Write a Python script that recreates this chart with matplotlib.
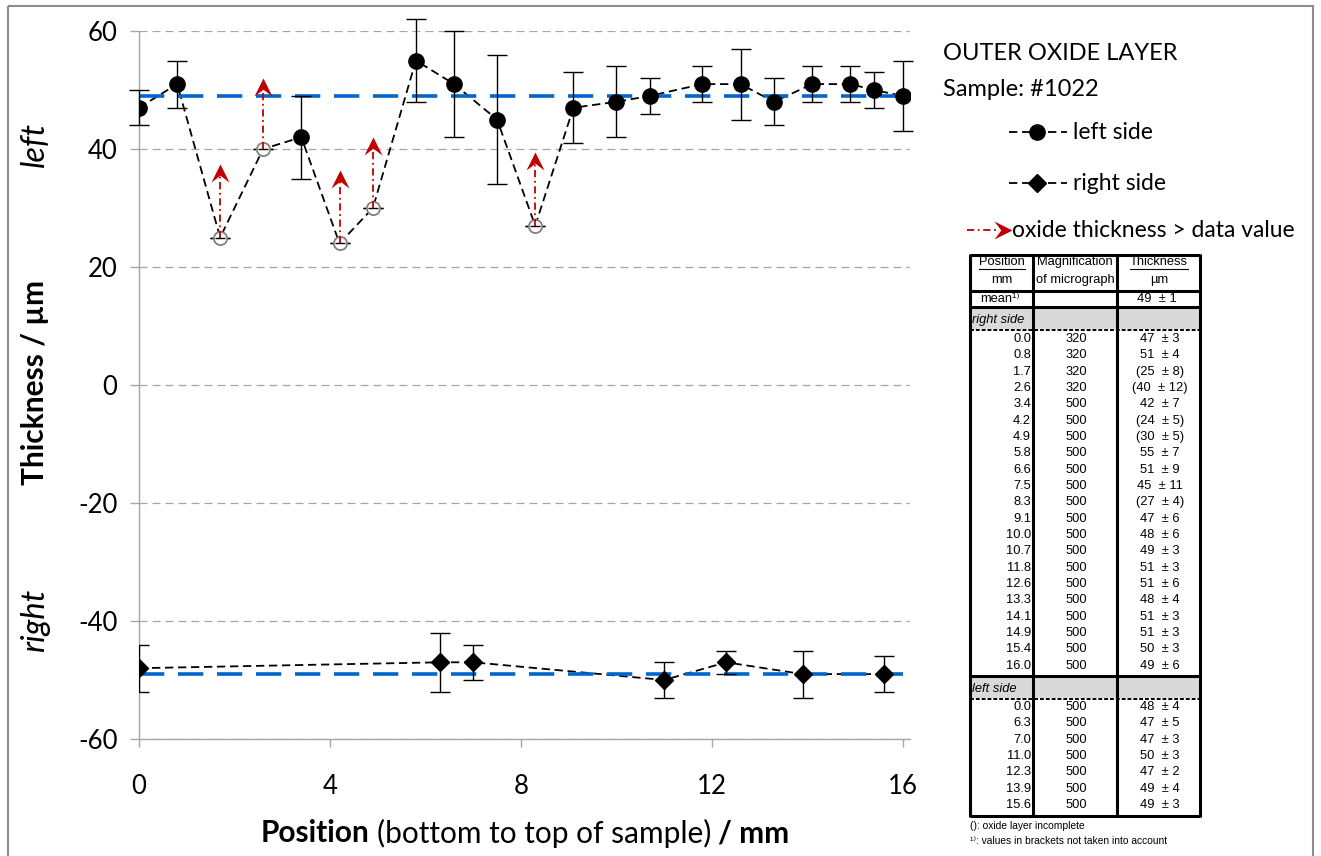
import matplotlib
matplotlib.use("Agg")
import matplotlib.pyplot as plt
from matplotlib.path import Path
from matplotlib.patches import Rectangle

plt.rcParams["axes.unicode_minus"] = False

# ---- data -------------------------------------------------------------
# upper profile (plotted as positive thickness)
upper_pos = [0.0, 0.8, 1.7, 2.6, 3.4, 4.2, 4.9, 5.8, 6.6, 7.5, 8.3,
             9.1, 10.0, 10.7, 11.8, 12.6, 13.3, 14.1, 14.9, 15.4, 16.0]
upper_mag = [320, 320, 320, 320, 500, 500, 500, 500, 500, 500, 500,
             500, 500, 500, 500, 500, 500, 500, 500, 500, 500]
upper_val = [47, 51, 25, 40, 42, 24, 30, 55, 51, 45, 27,
             47, 48, 49, 51, 51, 48, 51, 51, 50, 49]
upper_err = [3, 4, 8, 12, 7, 5, 5, 7, 9, 11, 4,
             6, 6, 3, 3, 6, 4, 3, 3, 3, 6]
upper_incomplete = [False, False, True, True, False, True, True, False, False, False, True,
                    False, False, False, False, False, False, False, False, False, False]
# upper end of the "thickness > data value" arrows (incomplete points, in order)
arrow_tip = [37.5, 52.0, 36.5, 42.0, 39.5]

# lower profile (plotted as negative thickness)
lower_pos = [0.0, 6.3, 7.0, 11.0, 12.3, 13.9, 15.6]
lower_mag = [500, 500, 500, 500, 500, 500, 500]
lower_val = [48, 47, 47, 50, 47, 49, 49]
lower_err = [4, 5, 3, 3, 2, 4, 3]

mean_val = 49
mean_err = 1

y_ticks = [-60, -40, -20, 0, 20, 40, 60]
x_ticks = [0, 4, 8, 12, 16]

# ---- figure -----------------------------------------------------------
W, H = 1321, 856
fig = plt.figure(figsize=(W / 100, H / 100), dpi=100)
FONT = "Lato"
TFONT = ["Liberation Sans", "DejaVu Sans"]

ax = fig.add_axes([139 / W, 1 - 739 / H, 771 / W, 708 / H])
ax.set_xlim(0, 16.15)
ax.set_ylim(-60, 60)
ax.set_yticks(y_ticks)
ax.set_xticks(x_ticks)
ax.set_yticklabels([str(v) for v in y_ticks], fontsize=18.5, family=FONT)
ax.set_xticklabels([str(v) for v in x_ticks], fontsize=18.5, family=FONT)
ax.tick_params(axis="y", direction="out", length=6.5, width=1, color="#a6a6a6", pad=9)
ax.tick_params(axis="x", direction="out", length=6, width=1, color="#a6a6a6", pad=19)
for s in ("top", "right"):
    ax.spines[s].set_visible(False)
for s in ("left", "bottom"):
    ax.spines[s].set_color("#a6a6a6")
    ax.spines[s].set_linewidth(1)
ax.yaxis.grid(True, color="#a6a6a6", lw=0.9, ls=(0, (6.4, 4)))
ax.set_axisbelow(True)

conn_dash = (0, (4.6, 2.6))

# mean lines
blue = "#0066cc"
ax.plot([0, 16], [mean_val, mean_val], color=blue, lw=2.6, ls=(0, (7.0, 3.8)), zorder=3)
ax.plot([0, 16], [-mean_val, -mean_val], color=blue, lw=2.6, ls=(0, (7.0, 3.8)), zorder=3)

# upper profile
ax.plot(upper_pos, upper_val, color="black", lw=1.3, ls=conn_dash, zorder=2)
up_err = [0 if inc else e for e, inc in zip(upper_err, upper_incomplete)]
ax.errorbar(upper_pos, upper_val, yerr=up_err, fmt="none", ecolor="black",
            elinewidth=1, capsize=7, capthick=1, zorder=3.5, clip_on=False)
full_x = [p for p, inc in zip(upper_pos, upper_incomplete) if not inc]
full_y = [v for v, inc in zip(upper_val, upper_incomplete) if not inc]
inc_x = [p for p, inc in zip(upper_pos, upper_incomplete) if inc]
inc_y = [v for v, inc in zip(upper_val, upper_incomplete) if inc]
ax.plot(full_x, full_y, "o", color="black", ms=11, zorder=5)
ax.plot(inc_x, inc_y, "o", mfc="white", mec="#808080", mew=1.3, ms=9.5, zorder=4)
ax.plot(inc_x, inc_y, "_", color="black", ms=7, mew=1, zorder=4.5)

# arrows marking incomplete oxide layer
red = "#c00000"
head_up = Path([(0, 0), (0.5, -1.0), (0, -0.62), (-0.5, -1.0), (0, 0)],
               [Path.MOVETO, Path.LINETO, Path.LINETO, Path.LINETO, Path.CLOSEPOLY])
for x, y0, y1 in zip(inc_x, inc_y, arrow_tip):
    ax.plot([x, x], [y0, y1 - 1.5], color=red, lw=1.3, ls=(0, (4, 2, 1, 2)), zorder=4.2)
    ax.plot([x], [y1], marker=head_up, color=red, ms=26, mew=0, zorder=4.3)

# lower profile
low_y = [-v for v in lower_val]
ax.plot(lower_pos, low_y, color="black", lw=1.3, ls=conn_dash, zorder=2)
ax.errorbar(lower_pos, low_y, yerr=lower_err, fmt="none", ecolor="black",
            elinewidth=1, capsize=7, capthick=1, zorder=3.5)
ax.plot(lower_pos, low_y, "D", color="black", ms=9, zorder=5)

# ---- overlay in pixel coordinates ------------------------------------
ov = fig.add_axes([0, 0, 1, 1], zorder=10)
ov.set_xlim(0, W)
ov.set_ylim(H, 0)
ov.axis("off")
ov.patch.set_visible(False)
renderer = fig.canvas.get_renderer()

ov.add_patch(Rectangle((8, 6), 1305, 860, fill=False, ec="#8c8c8c", lw=1.5, clip_on=False))

# axis titles
ov.text(35, 382, "Thickness / µm", rotation=90, ha="center", va="center",
        fontsize=21.5, fontweight="bold", family=FONT)
ov.text(35, 144, "left", rotation=90, ha="center", va="center",
        fontsize=23.5, fontstyle="italic", family=FONT)
ov.text(35, 620, "right", rotation=90, ha="center", va="center",
        fontsize=23.5, fontstyle="italic", family=FONT)

pieces = [("Position", "bold"), ("(bottom to top of sample)", "normal"), ("/ mm", "bold")]
ts = [ov.text(0, 833, s, fontsize=21.5, fontweight=w, family=FONT, ha="left", va="center")
      for s, w in pieces]
widths = [t.get_window_extent(renderer).width for t in ts]
gap = 7
total = sum(widths) + gap * (len(ts) - 1)
x = 525 - total / 2
for t, w in zip(ts, widths):
    t.set_x(x)
    x += w + gap

# legend block
ov.text(943, 53, "OUTER OXIDE LAYER", fontsize=17, family=FONT, ha="left", va="center")
ov.text(943, 89, "Sample: #1022", fontsize=17, family=FONT, ha="left", va="center")
for yy, mk, label in ((132, "o", "left side"), (183, "D", "right side")):
    ov.plot([1009, 1067], [yy, yy], color="black", lw=1.3, ls=conn_dash)
    ov.plot([1037], [yy], mk, color="black", ms=11 if mk == "o" else 9)
    ov.text(1073, yy, label, fontsize=16.5, family=FONT, ha="left", va="center")
head_right = Path([(0, 0), (-1.0, 0.5), (-0.62, 0), (-1.0, -0.5), (0, 0)],
                  [Path.MOVETO, Path.LINETO, Path.LINETO, Path.LINETO, Path.CLOSEPOLY])
ov.plot([967, 998], [230, 230], color=red, lw=1.3, ls=(0, (4, 2, 1, 2)))
ov.plot([1012], [230], marker=head_right, color=red, ms=26, mew=0)
ov.text(1012, 230, "oxide thickness > data value", fontsize=16.5, family=FONT,
        ha="left", va="center")

# ---- data table -------------------------------------------------------
TX = [970, 1033, 1117, 1199.5]
T_TOP, T_BOT = 254.5, 816
TS = 9.3
ROW = 16.33


def tline(x0, x1, y, lw=2.2, ls="-"):
    ov.plot([x0, x1], [y, y], color="black", lw=lw, ls=ls, solid_capstyle="butt")


def ttext(x, y, s, ha="center", style="normal", size=TS):
    return ov.text(x, y, s, fontsize=size, family=TFONT, ha=ha, va="center", fontstyle=style)


def underlined(x, y, s):
    t = ttext(x, y, s)
    bb = t.get_window_extent(renderer)
    ov.plot([bb.x0, bb.x1], [y + 7, y + 7], color="black", lw=0.8)


def fmt(v, e, inc):
    s = f"{v}  ± {e}"
    return f"({s})" if inc else s


# grey section bands
for yb in (308, 677):
    ov.add_patch(Rectangle((TX[0], yb), TX[3] - TX[0], 21, fc="#d9d9d9", ec="none"))

# header
underlined(1002, 262, "Position")
ttext(1002, 280, "mm")
ttext(1075, 262, "Magnification")
ttext(1075, 280, "of micrograph")
underlined(1159, 262, "Thickness")
ttext(1159, 280, "µm")
ttext(1000, 298.5, "mean¹⁾")
ttext(1157, 298.5, f"{mean_val}  ± {mean_err}")

ttext(972, 320, "right side", ha="left", style="italic")
ttext(972, 688.5, "left side", ha="left", style="italic")

row0 = 339
for i, (p, m, v, e, inc) in enumerate(zip(upper_pos, upper_mag, upper_val, upper_err,
                                          upper_incomplete)):
    y = row0 + i * ROW
    ttext(1031, y, f"{p:.1f}", ha="right")
    ttext(1076, y, str(m))
    ttext(1160, y, fmt(v, e, inc))

row1 = 707
for i, (p, m, v, e) in enumerate(zip(lower_pos, lower_mag, lower_val, lower_err)):
    y = row1 + i * ROW
    ttext(1031, y, f"{p:.1f}", ha="right")
    ttext(1076, y, str(m))
    ttext(1160, y, fmt(v, e, False))

# rules
tline(TX[0], TX[3], T_TOP)
tline(TX[0], TX[3], 291)
tline(TX[0], TX[3], 306.5)
tline(TX[0], TX[3], 675.5)
tline(TX[0], TX[3], T_BOT)
tline(TX[0], TX[3], 330, lw=1.4, ls=(0, (2, 1)))
tline(TX[0], TX[3], 698.5, lw=1.4, ls=(0, (2, 1)))
for xx in TX:
    ov.plot([xx, xx], [T_TOP - 1, T_BOT + 1], color="black", lw=2.2, solid_capstyle="butt")

ov.text(970, 826, "(): oxide layer incomplete", fontsize=7.4, family=TFONT,
        ha="left", va="center")
ov.text(970, 841, "¹⁾: values in brackets not taken into account", fontsize=7.4, family=TFONT,
        ha="left", va="center")

fig.savefig("out.png", dpi=100)
